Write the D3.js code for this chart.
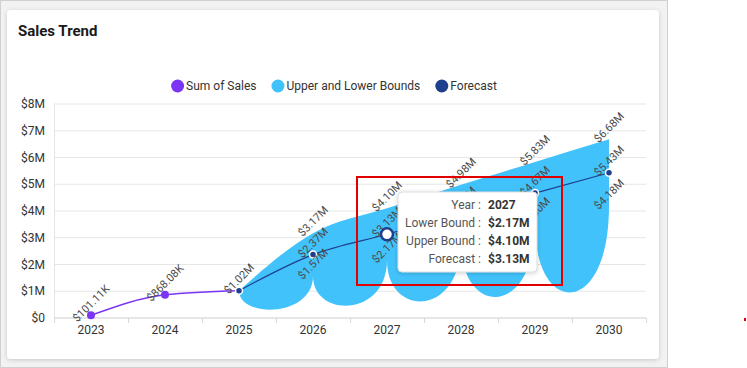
<!DOCTYPE html>
<head>
	<meta charset="utf-8">
	<title>Sales Trend</title>
	<script src="https://d3js.org/d3.v7.min.js"></script>
	<style>
		body{
			margin: 0;
			background-color: white;
		}
		text{
			font-family: Roboto, sans-serif;
		}
	</style>
</head>
<body>
	<div id="chart"></div>

	<script>
		// ---- data (values in millions of dollars) ----
		var years = ["2023", "2024", "2025", "2026", "2027", "2028", "2029", "2030"];
		var salesYears = ["2023", "2024", "2025"];
		var sales = [0.10111, 0.86808, 1.02];
		var forecastYears = ["2025", "2026", "2027", "2028", "2029", "2030"];
		var forecast = [1.02, 2.37, 3.13, 3.90, 4.67, 5.43];
		var upper = [1.02, 3.17, 4.10, 4.98, 5.83, 6.68];
		var lower = [1.02, 1.57, 2.17, 2.84, 3.50, 4.18];
		var yTicks = [0, 1, 2, 3, 4, 5, 6, 7, 8];
		var legendNames = ["Sum of Sales", "Upper and Lower Bounds", "Forecast"];
		var hoverIndex = 2; // 2027 in the forecast arrays

		var purple = "#7b35f5";
		var cyan = "#42c2fb";
		var navy = "#1e3f8c";

		var width = 747, height = 368;
		var svg = d3.select("#chart").append("svg")
			.attr("width", width)
			.attr("height", height);

		// drop shadow for card + tooltip
		var defs = svg.append("defs");
		var f = defs.append("filter").attr("id", "shadow").attr("x", "-10%").attr("y", "-10%").attr("width", "120%").attr("height", "120%");
		f.append("feDropShadow").attr("dx", 0).attr("dy", 1).attr("stdDeviation", 2).attr("flood-color", "#000").attr("flood-opacity", 0.18);

		// page background and card
		svg.append("rect").attr("x", 0.5).attr("y", 0.5).attr("width", 667).attr("height", 367)
			.attr("fill", "#f2f2f2").attr("stroke", "#d0d0d0");
		svg.append("rect").attr("x", 7).attr("y", 10).attr("width", 652).attr("height", 349).attr("rx", 4)
			.attr("fill", "white").attr("filter", "url(#shadow)");

		svg.append("text").attr("x", 18).attr("y", 36)
			.attr("font-size", 15).attr("font-weight", "bold").attr("fill", "#1a1a1a")
			.text("Sales Trend");

		// scales
		var x = d3.scaleBand().domain(years).range([54, 646]);
		var cx = function(yr){ return x(yr) + x.bandwidth() / 2; };
		var y = d3.scaleLinear().domain([0, 8]).range([318, 104]);

		var fmt = function(v){
			return v < 1 ? "$" + (v * 1000).toFixed(2) + "K" : "$" + v.toFixed(2) + "M";
		};

		// gridlines + y labels
		var grid = svg.append("g");
		grid.selectAll("line").data(yTicks).enter().append("line")
			.attr("x1", 54).attr("x2", 646)
			.attr("y1", function(d){ return y(d); }).attr("y2", function(d){ return y(d); })
			.attr("stroke", "#e6e6e6");
		grid.append("line").attr("x1", 54.5).attr("x2", 54.5).attr("y1", y(8)).attr("y2", y(0))
			.attr("stroke", "#e6e6e6");
		grid.selectAll("text").data(yTicks).enter().append("text")
			.attr("x", 45).attr("y", function(d){ return y(d); })
			.attr("dy", "0.35em").attr("text-anchor", "end")
			.attr("font-size", 12).attr("fill", "#333")
			.text(function(d){ return d === 0 ? "$0" : "$" + d + "M"; });

		// x axis
		var xAxis = svg.append("g").attr("transform", "translate(0," + y(0) + ")");
		xAxis.append("line").attr("x1", 54).attr("x2", 646).attr("stroke", "#d9d9d9");
		xAxis.selectAll(".tk").data(years.concat(["end"])).enter().append("line")
			.attr("x1", function(d, i){ return 54 + i * x.bandwidth() + 0.5; })
			.attr("x2", function(d, i){ return 54 + i * x.bandwidth() + 0.5; })
			.attr("y1", 0).attr("y2", 5).attr("stroke", "#d9d9d9");
		xAxis.selectAll("text").data(years).enter().append("text")
			.attr("x", function(d){ return cx(d); }).attr("y", 16)
			.attr("text-anchor", "middle").attr("font-size", 12).attr("fill", "#333")
			.text(function(d){ return d; });

		// band: smooth upper edge, lower edge drops between each lower point
		var upperLine = d3.line()
			.x(function(d, i){ return cx(forecastYears[i]); })
			.y(function(d){ return y(d); })
			.curve(d3.curveMonotoneX);
		var p = d3.path();
		var n = lower.length - 1;
		p.moveTo(cx(forecastYears[n]), y(lower[n]));
		for (var i = n; i > 0; i--) {
			var x0 = cx(forecastYears[i]), x1 = cx(forecastYears[i - 1]);
			p.bezierCurveTo(x0, y(0), x1, y(0), x1, y(lower[i - 1]));
		}
		var bandPath = upperLine(upper) + "L" + p.toString().slice(1) + "Z";
		svg.append("path").attr("d", bandPath).attr("fill", cyan);

		// sum of sales line
		var salesLine = d3.line()
			.x(function(d, i){ return cx(salesYears[i]); })
			.y(function(d){ return y(d); })
			.curve(d3.curveMonotoneX);
		svg.append("path").attr("d", salesLine(sales))
			.attr("fill", "none").attr("stroke", purple).attr("stroke-width", 1.5);

		// forecast line
		var fcLine = d3.line()
			.x(function(d, i){ return cx(forecastYears[i]); })
			.y(function(d){ return y(d); })
			.curve(d3.curveMonotoneX);
		svg.append("path").attr("d", fcLine(forecast))
			.attr("fill", "none").attr("stroke", navy).attr("stroke-width", 1.2);

		// markers
		svg.append("g").selectAll("circle").data(sales.slice(0, 2)).enter().append("circle")
			.attr("cx", function(d, i){ return cx(salesYears[i]); })
			.attr("cy", function(d){ return y(d); })
			.attr("r", 4).attr("fill", purple);
		svg.append("g").selectAll("circle").data(forecast).enter().append("circle")
			.attr("cx", function(d, i){ return cx(forecastYears[i]); })
			.attr("cy", function(d){ return y(d); })
			.attr("r", 3.5).attr("fill", navy).attr("stroke", "white").attr("stroke-width", 1.5);

		// data labels, rotated
		var labels = [];
		sales.forEach(function(v, i){ labels.push({yr: salesYears[i], v: v}); });
		forecastYears.forEach(function(yr, i){
			if (i === 0) return;
			labels.push({yr: yr, v: upper[i]});
			labels.push({yr: yr, v: forecast[i]});
			labels.push({yr: yr, v: lower[i]});
		});
		svg.append("g").selectAll("text").data(labels).enter().append("text")
			.attr("transform", function(d){ return "translate(" + cx(d.yr) + "," + (y(d.v) - 12) + ") rotate(-45)"; })
			.attr("text-anchor", "middle").attr("dy", "0.35em")
			.attr("font-size", 11).attr("fill", "#4a4a4a")
			.text(function(d){ return fmt(d.v); });

		// hovered point
		var hx = cx(forecastYears[hoverIndex]), hy = y(forecast[hoverIndex]);
		svg.append("circle").attr("cx", hx).attr("cy", hy).attr("r", 6)
			.attr("fill", "white").attr("stroke", navy).attr("stroke-width", 2.5);

		// tooltip
		var tip = svg.append("g").attr("transform", "translate(398,192)");
		tip.append("rect").attr("width", 139).attr("height", 80).attr("rx", 4)
			.attr("fill", "white").attr("stroke", "#dcdcdc").attr("filter", "url(#shadow)");
		var tipRows = [
			["Year :", forecastYears[hoverIndex]],
			["Lower Bound :", fmt(lower[hoverIndex])],
			["Upper Bound :", fmt(upper[hoverIndex])],
			["Forecast :", fmt(forecast[hoverIndex])]
		];
		tipRows.forEach(function(r, i){
			tip.append("text").attr("x", 83).attr("y", 17 + i * 18)
				.attr("text-anchor", "end").attr("font-size", 12).attr("fill", "#555").text(r[0]);
			tip.append("text").attr("x", 90).attr("y", 17 + i * 18)
				.attr("font-size", 12).attr("font-weight", "bold").attr("fill", "#333").text(r[1]);
		});

		// legend
		var legendColors = [purple, cyan, navy];
		var lg = svg.append("g");
		var lx = 0;
		legendNames.forEach(function(name, i){
			var item = lg.append("g").attr("transform", "translate(" + lx + ",0)");
			item.append("circle").attr("cx", 6.5).attr("cy", 0).attr("r", 6.5).attr("fill", legendColors[i]);
			var t = item.append("text").attr("x", 15).attr("dy", "0.35em")
				.attr("font-size", 12).attr("fill", "#333").text(name);
			lx += 15 + t.node().getComputedTextLength() + 15;
		});
		lg.attr("transform", "translate(" + (334 - (lx - 15) / 2) + ",86)");

		// red highlight box
		svg.append("rect").attr("x", 357).attr("y", 177).attr("width", 205).attr("height", 108)
			.attr("fill", "none").attr("stroke", "#e00000").attr("stroke-width", 2);
		svg.append("rect").attr("x", 744).attr("y", 318).attr("width", 2).attr("height", 3).attr("fill", "#e00000");
	</script>
</body>
